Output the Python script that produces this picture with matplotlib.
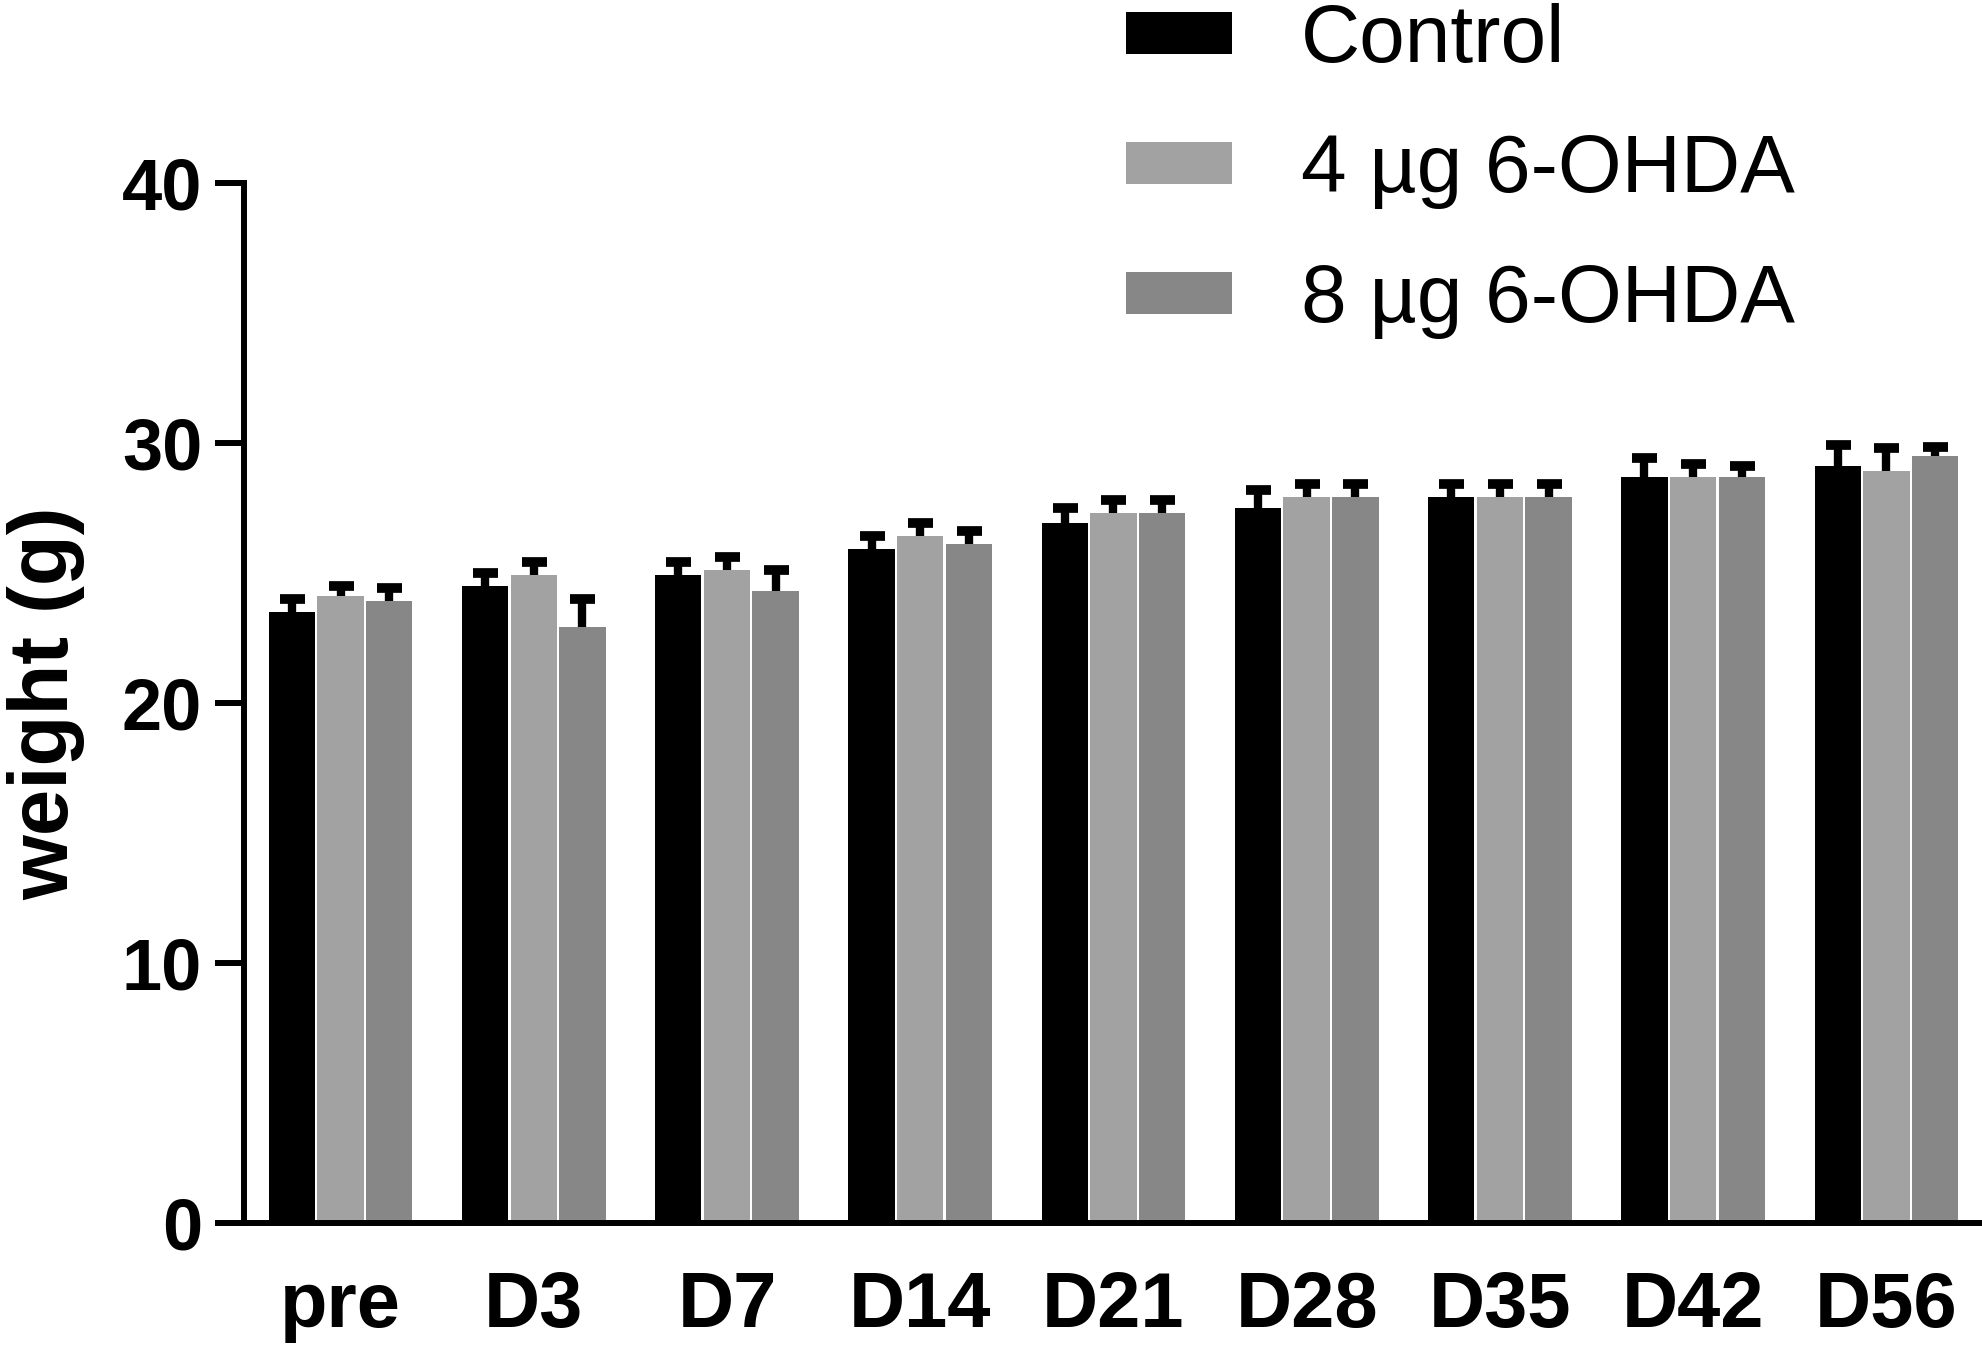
import numpy as np
import matplotlib
matplotlib.use("Agg")
import matplotlib.pyplot as plt

# Données (moyenne + erreur supérieure, en g)
jours = ["pre", "D3", "D7", "D14", "D21", "D28", "D35", "D42", "D56"]
groupes = ["Control", "4 µg 6-OHDA", "8 µg 6-OHDA"]

poids_control = [23.5, 24.5, 24.9, 25.9, 26.9, 27.5, 27.9, 28.7, 29.1]
poids_4ug = [24.1, 24.9, 25.1, 26.4, 27.3, 27.9, 27.9, 28.7, 28.9]
poids_8ug = [23.9, 22.9, 24.3, 26.1, 27.3, 27.9, 27.9, 28.7, 29.5]

err_control = [0.5, 0.5, 0.5, 0.5, 0.6, 0.7, 0.5, 0.7, 0.8]
err_4ug = [0.4, 0.5, 0.5, 0.5, 0.5, 0.5, 0.5, 0.5, 0.9]
err_8ug = [0.5, 1.1, 0.8, 0.5, 0.5, 0.5, 0.5, 0.4, 0.35]

COULEURS = ["#000000", "#a2a2a2", "#878787"]

plt.rcParams["font.family"] = ["Liberation Sans", "DejaVu Sans"]

fig = plt.figure(figsize=(19.83, 13.53), dpi=100)
ax = fig.add_axes([0.123, 0.096, 0.877, 0.769])

x = np.arange(len(jours))
largeur = 0.24
decalage = 0.252
series = [(poids_control, err_control), (poids_4ug, err_4ug), (poids_8ug, err_8ug)]
for i, (vals, errs) in enumerate(series):
    pos = x + (i - 1) * decalage
    ax.bar(pos, vals, width=largeur, color=COULEURS[i], label=groupes[i], zorder=2)
    _, caps, _ = ax.errorbar(pos, vals, yerr=[np.zeros(len(vals)), errs], fmt="none",
                             ecolor="black", elinewidth=6, capsize=9, capthick=7,
                             zorder=3)
    caps[0].set_visible(False)  # pas de cap en bas (erreur vers le haut seulement)

ax.set_xlim(-0.5, len(jours) - 0.5)
ax.set_ylim(0, 40)
ax.set_yticks([0, 10, 20, 30, 40])
ax.set_xticks(x)
ax.set_xticklabels(jours, fontsize=56, fontweight="bold")
ax.tick_params(axis="y", labelsize=52, width=4.3, length=21, pad=9)
for lab in ax.get_yticklabels():
    lab.set_fontweight("bold")
ax.tick_params(axis="x", length=0, pad=34)

for cote in ["top", "right"]:
    ax.spines[cote].set_visible(False)
for cote in ["left", "bottom"]:
    ax.spines[cote].set_linewidth(4.3)

ax.set_ylabel("weight (g)", fontsize=60, fontweight="bold", labelpad=26)

fig.legend(loc="upper left", bbox_to_anchor=(0.543, 1.034), frameon=False,
           fontsize=59, handlelength=1.29, handleheight=0.42, handletextpad=0.85,
           labelspacing=0.66, borderpad=0.1)

fig.savefig("out.png", dpi=100)
